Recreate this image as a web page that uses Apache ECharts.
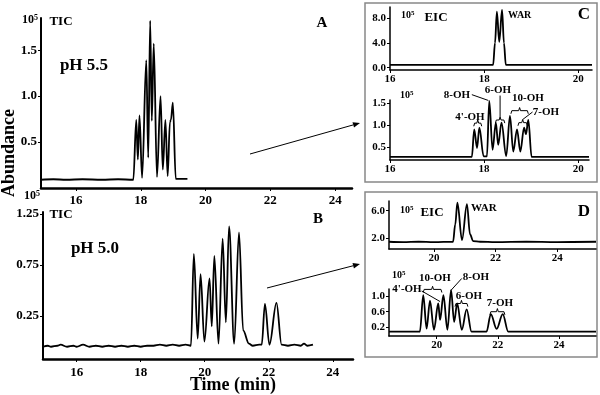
<!DOCTYPE html>
<html>
<head>
<meta charset="utf-8">
<script src="https://cdn.jsdelivr.net/npm/echarts@6/dist/echarts.min.js"></script>
<style>
  html, body { margin: 0; padding: 0; background: #fff; }
  #chart { width: 600px; height: 395px; }
</style>
</head>
<body>
<div id="chart"></div>
<script>
// time (min), abundance (x10^5)
const ticA = [
  [14.92, 0.09], [15.3, 0.095], [15.7, 0.09], [16.2, 0.095], [16.8, 0.09], [17.3, 0.095], [17.77, 0.09],
  [17.86, 0.74], [17.91, 0.31], [17.96, 0.79], [18.04, 0.11], [18.17, 1.39], [18.23, 0.33],
  [18.29, 1.82], [18.34, 0.73], [18.40, 1.57], [18.50, 0.12], [18.61, 1.0], [18.68, 0.2],
  [18.76, 0.74], [18.83, 0.13], [18.90, 0.72], [18.93, 0.74], [18.99, 0.93], [19.08, 0.1],
  [19.12, 0.1], [19.44, 0.1]
]
const ticB = [
  [14.95, -0.05], [15.1, -0.04], [15.2, -0.05], [15.4, -0.04], [15.5, -0.03], [15.7, -0.05],
  [15.9, -0.04], [16.0, -0.05], [16.2, -0.03], [16.4, -0.05], [16.6, -0.04], [16.8, -0.05],
  [17.0, -0.04], [17.2, -0.05], [17.4, -0.04], [17.6, -0.05], [17.8, -0.04], [18.0, -0.05],
  [18.2, -0.04], [18.4, -0.04], [18.6, -0.03], [18.8, -0.04], [19.0, -0.03], [19.2, -0.04],
  [19.4, -0.03], [19.57, -0.04],
  [19.66, 0.86], [19.78, 0.03], [19.87, 0.66], [19.99, 0.0], [20.15, 0.62], [20.22, 0.15],
  [20.30, 0.84], [20.43, -0.02], [20.56, 1.01], [20.66, 0.19], [20.76, 1.13], [20.92, -0.02],
  [21.07, 1.07], [21.2, 0.11], [21.38, -0.02], [21.5, -0.04], [21.7, -0.03], [21.78, -0.03],
  [21.88, 0.37], [22.02, -0.03], [22.24, 0.38], [22.40, -0.03], [22.6, -0.04], [22.8, -0.03],
  [23.0, -0.04], [23.1, -0.02], [23.2, -0.04], [23.38, -0.03]
]
const eicC1 = [
  [16, 0.45], [18.19, 0.45], [18.23, 4.0], [18.27, 9.07], [18.32, 4.2], [18.38, 9.35],
  [18.42, 4.0], [18.46, 0.45], [20.29, 0.45]
]
const eicC2 = [
  [16, 0.29], [17.74, 0.29], [17.79, 0.91], [17.85, 0.49], [17.90, 0.95], [17.99, 0.30],
  [18.06, 0.3], [18.11, 1.55], [18.18, 0.45], [18.25, 1.06], [18.30, 0.56], [18.37, 1.06],
  [18.47, 0.31], [18.55, 1.21], [18.62, 0.41], [18.70, 0.91], [18.77, 0.41], [18.85, 0.95],
  [18.89, 0.8], [18.94, 1.12], [19.01, 0.29], [20.23, 0.29]
]
const eicD1 = [
  [18.54, 1.5], [19.0, 1.45], [19.5, 1.5], [20.0, 1.45], [20.62, 1.5], [20.69, 4.0], [20.76, 7.16],
  [20.91, 1.75], [21.07, 6.96], [21.17, 2.6], [21.27, 1.6], [21.5, 1.5], [22, 1.45], [23, 1.5],
  [24, 1.45], [25.26, 1.5]
]
const eicD2 = [
  [18.44, 0.09], [19.45, 0.09], [19.56, 1.02], [19.67, 0.17], [19.78, 0.88], [19.91, 0.14],
  [20.05, 0.81], [20.11, 0.39], [20.22, 1.02], [20.35, 0.14], [20.47, 1.15], [20.57, 0.34],
  [20.67, 0.81], [20.82, 0.14], [20.98, 0.66], [21.14, 0.09], [21.63, 0.09], [21.77, 0.54],
  [21.96, 0.16], [22.16, 0.54], [22.34, 0.09], [25.21, 0.09]
]

// tick labels
const ticksAx = [16, 18, 20, 22, 24]
const ticksAy = [0.5, 1.0, 1.5]
const ticksBy = [0.25, 0.75, 1.25]
const ticksC1x = [16, 18, 20]
const ticksC1y = [0, 4, 8]
const ticksC2y = [0.5, 1.0, 1.5]
const ticksDx = [20, 22, 24]
const ticksD1y = [2, 6]
const ticksD2y = [0.2, 0.6, 1.0]

// brackets [from, to, level] in data units
const bracketsC2 = [[17.78, 17.95, 1.05], [18.24, 18.44, 1.12], [18.57, 18.94, 1.33], [18.72, 18.92, 1.06]]
const leadersC2 = [[[17.74, 1.69], [18.09, 1.56]], [[18.34, 1.19], [18.34, 1.67]], [[18.82, 1.13], [19.03, 1.30]]]
const bracketsD2 = [[19.56, 20.17, 1.17], [20.6, 21.02, 0.81], [21.74, 22.23, 0.6]]
const leadersD2 = [[[19.51, 1.13], [20.11, 0.86]], [[20.82, 1.45], [20.46, 1.14]]]

const FONT = '"Liberation Serif", "Times New Roman", serif'

function xAxis(grid, min, max, ticks, size, w, gap) {
  return {
    type: 'value', gridIndex: grid, min: min, max: max,
    axisLine: {onZero: false, lineStyle: {color: '#000', width: w}},
    axisTick: {customValues: ticks, length: 3, lineStyle: {color: '#000', width: 1}},
    axisLabel: {customValues: ticks, color: '#000', fontFamily: FONT, fontWeight: 'bold', fontSize: size, margin: gap},
    splitLine: {show: false}
  }
}

function yAxis(grid, min, max, ticks, size, w, digits) {
  return {
    type: 'value', gridIndex: grid, min: min, max: max,
    axisLine: {show: true, onZero: false, lineStyle: {color: '#000', width: w}},
    axisTick: {customValues: ticks, length: 3, lineStyle: {color: '#000', width: 1}},
    axisLabel: {customValues: ticks, color: '#000', fontFamily: FONT, fontWeight: 'bold', fontSize: size, margin: 4,
      formatter: v => v.toFixed(digits)},
    splitLine: {show: false}
  }
}

function trace(i, data) {
  return {type: 'line', xAxisIndex: i, yAxisIndex: i, data: data, showSymbol: false,
    smooth: 0.35, smoothMonotone: 'x',
    lineStyle: {color: '#000', width: 1.8}, animation: false, silent: true}
}

function brace(i, b, d, e) {
  const [x1, x2, y] = b
  const m = (x1 + x2) / 2
  return {type: 'line', xAxisIndex: i, yAxisIndex: i, showSymbol: false, clip: false, silent: true, animation: false,
    lineStyle: {color: '#000', width: 1},
    data: [[x1, y - d], [x1 + e, y], [m - e, y], [m, y + d], [m + e, y], [x2 - e, y], [x2, y - d]]}
}

function leader(i, pts) {
  return {type: 'line', xAxisIndex: i, yAxisIndex: i, showSymbol: false, clip: false, silent: true, animation: false,
    lineStyle: {color: '#000', width: 1}, data: pts}
}

function txt(x, y, s, size, align) {
  return {type: 'text', x: x, y: y, style: {text: s, fill: '#000', font: 'bold ' + size + 'px ' + FONT,
    align: align || 'center', verticalAlign: 'middle'}}
}

function sup(x, y, size) {
  return {type: 'text', x: x, y: y, style: {text: '{b|10}{s|5}', fill: '#000', align: 'left', verticalAlign: 'middle',
    rich: {b: {font: 'bold ' + size + 'px ' + FONT}, s: {font: 'bold ' + Math.round(size * 0.65) + 'px ' + FONT, verticalAlign: 'top'}}}}
}

function arrow(x1, y1, x2, y2) {
  const dx = x2 - x1, dy = y2 - y1, L = Math.hypot(dx, dy)
  const ux = dx / L, uy = dy / L
  const bx = x2 - 7 * ux, by = y2 - 7 * uy
  return [
    {type: 'line', shape: {x1: x1, y1: y1, x2: bx, y2: by}, style: {stroke: '#000', lineWidth: 1}},
    {type: 'polygon', shape: {points: [[x2, y2], [bx - 2.8 * uy, by + 2.8 * ux], [bx + 2.8 * uy, by - 2.8 * ux]]},
      style: {fill: '#000'}}
  ]
}

const chart = echarts.init(document.getElementById('chart'), null, {renderer: 'canvas'})

const series = [
  trace(0, ticA), trace(1, ticB), trace(2, eicC1), trace(3, eicC2), trace(4, eicD1), trace(5, eicD2)
]
bracketsC2.forEach(b => series.push(brace(3, b, 0.07, 0.02)))
leadersC2.forEach(p => series.push(leader(3, p)))
bracketsD2.forEach(b => series.push(brace(5, b, 0.08, 0.03)))
leadersD2.forEach(p => series.push(leader(5, p)))

chart.setOption({
  backgroundColor: '#fff',
  animation: false,
  grid: [
    {left: 41, top: 18, width: 311, height: 170},
    {left: 43, top: 212, width: 310, height: 147},
    {left: 390, top: 7, width: 202, height: 63},
    {left: 390, top: 100, width: 199, height: 60},
    {left: 389, top: 201, width: 207, height: 48},
    {left: 389, top: 289, width: 207, height: 47}
  ],
  xAxis: [
    xAxis(0, 14.92, 24.52, ticksAx, 13, 2.5, 6),
    xAxis(1, 14.95, 24.63, ticksAx, 13, 2.5, 7),
    xAxis(2, 16, 20.29, ticksC1x, 11, 1.5, 4),
    xAxis(3, 16, 20.23, ticksC1x, 11, 1.5, 4),
    xAxis(4, 18.54, 25.26, ticksDx, 11, 1.5, 4),
    xAxis(5, 18.44, 25.21, ticksDx, 11, 1.5, 4)
  ],
  yAxis: [
    yAxis(0, 0, 1.85, ticksAy, 13, 2, 1),
    yAxis(1, -0.17, 1.27, ticksBy, 13, 2, 2),
    yAxis(2, -0.37, 9.83, ticksC1y, 11, 1.5, 1),
    yAxis(3, 0.22, 1.57, ticksC2y, 11, 1.5, 1),
    yAxis(4, 0.45, 7.4, ticksD1y, 11, 1.5, 1),
    yAxis(5, -0.02, 1.18, ticksD2y, 11, 1.5, 1)
  ],
  series: series,
  graphic: [
    {type: 'rect', shape: {x: 365, y: 3, width: 232, height: 179}, style: {fill: 'none', stroke: '#888', lineWidth: 1.5}},
    {type: 'rect', shape: {x: 365, y: 192, width: 232, height: 165}, style: {fill: 'none', stroke: '#888', lineWidth: 1.5}},
    ...arrow(250, 154, 360, 123),
    ...arrow(267, 288, 360, 264),
    {type: 'text', x: 9, y: 153, rotation: Math.PI / 2,
      style: {text: 'Abundance', fill: '#000', font: 'bold 18px ' + FONT, align: 'center', verticalAlign: 'middle'}},
    txt(233, 385, 'Time (min)', 18),
    sup(22, 20, 12), txt(61, 22, 'TIC', 13), txt(84, 66, 'pH 5.5', 17), txt(322, 23, 'A', 15),
    sup(24, 196, 12), txt(61, 215, 'TIC', 13), txt(95, 249, 'pH 5.0', 17), txt(318, 219, 'B', 15),
    sup(401, 15, 10), txt(436, 18, 'EIC', 13), txt(508, 15, 'WAR', 10, 'left'), txt(584, 15, 'C', 17),
    sup(400, 95, 10),
    txt(470, 117, "4'-OH", 11), txt(457, 95, '8-OH', 11), txt(498, 90, '6-OH', 11),
    txt(528, 98, '10-OH', 11), txt(546, 112, '7-OH', 11),
    sup(400, 210, 10), txt(432, 213, 'EIC', 13), txt(471, 208, 'WAR', 11, 'left'), txt(584, 212, 'D', 17),
    sup(392, 275, 10),
    txt(435, 278, '10-OH', 11), txt(407, 289, "4'-OH", 11), txt(476, 277, '8-OH', 11),
    txt(469, 296, '6-OH', 11), txt(500, 303, '7-OH', 11)
  ]
})
</script>
</body>
</html>
